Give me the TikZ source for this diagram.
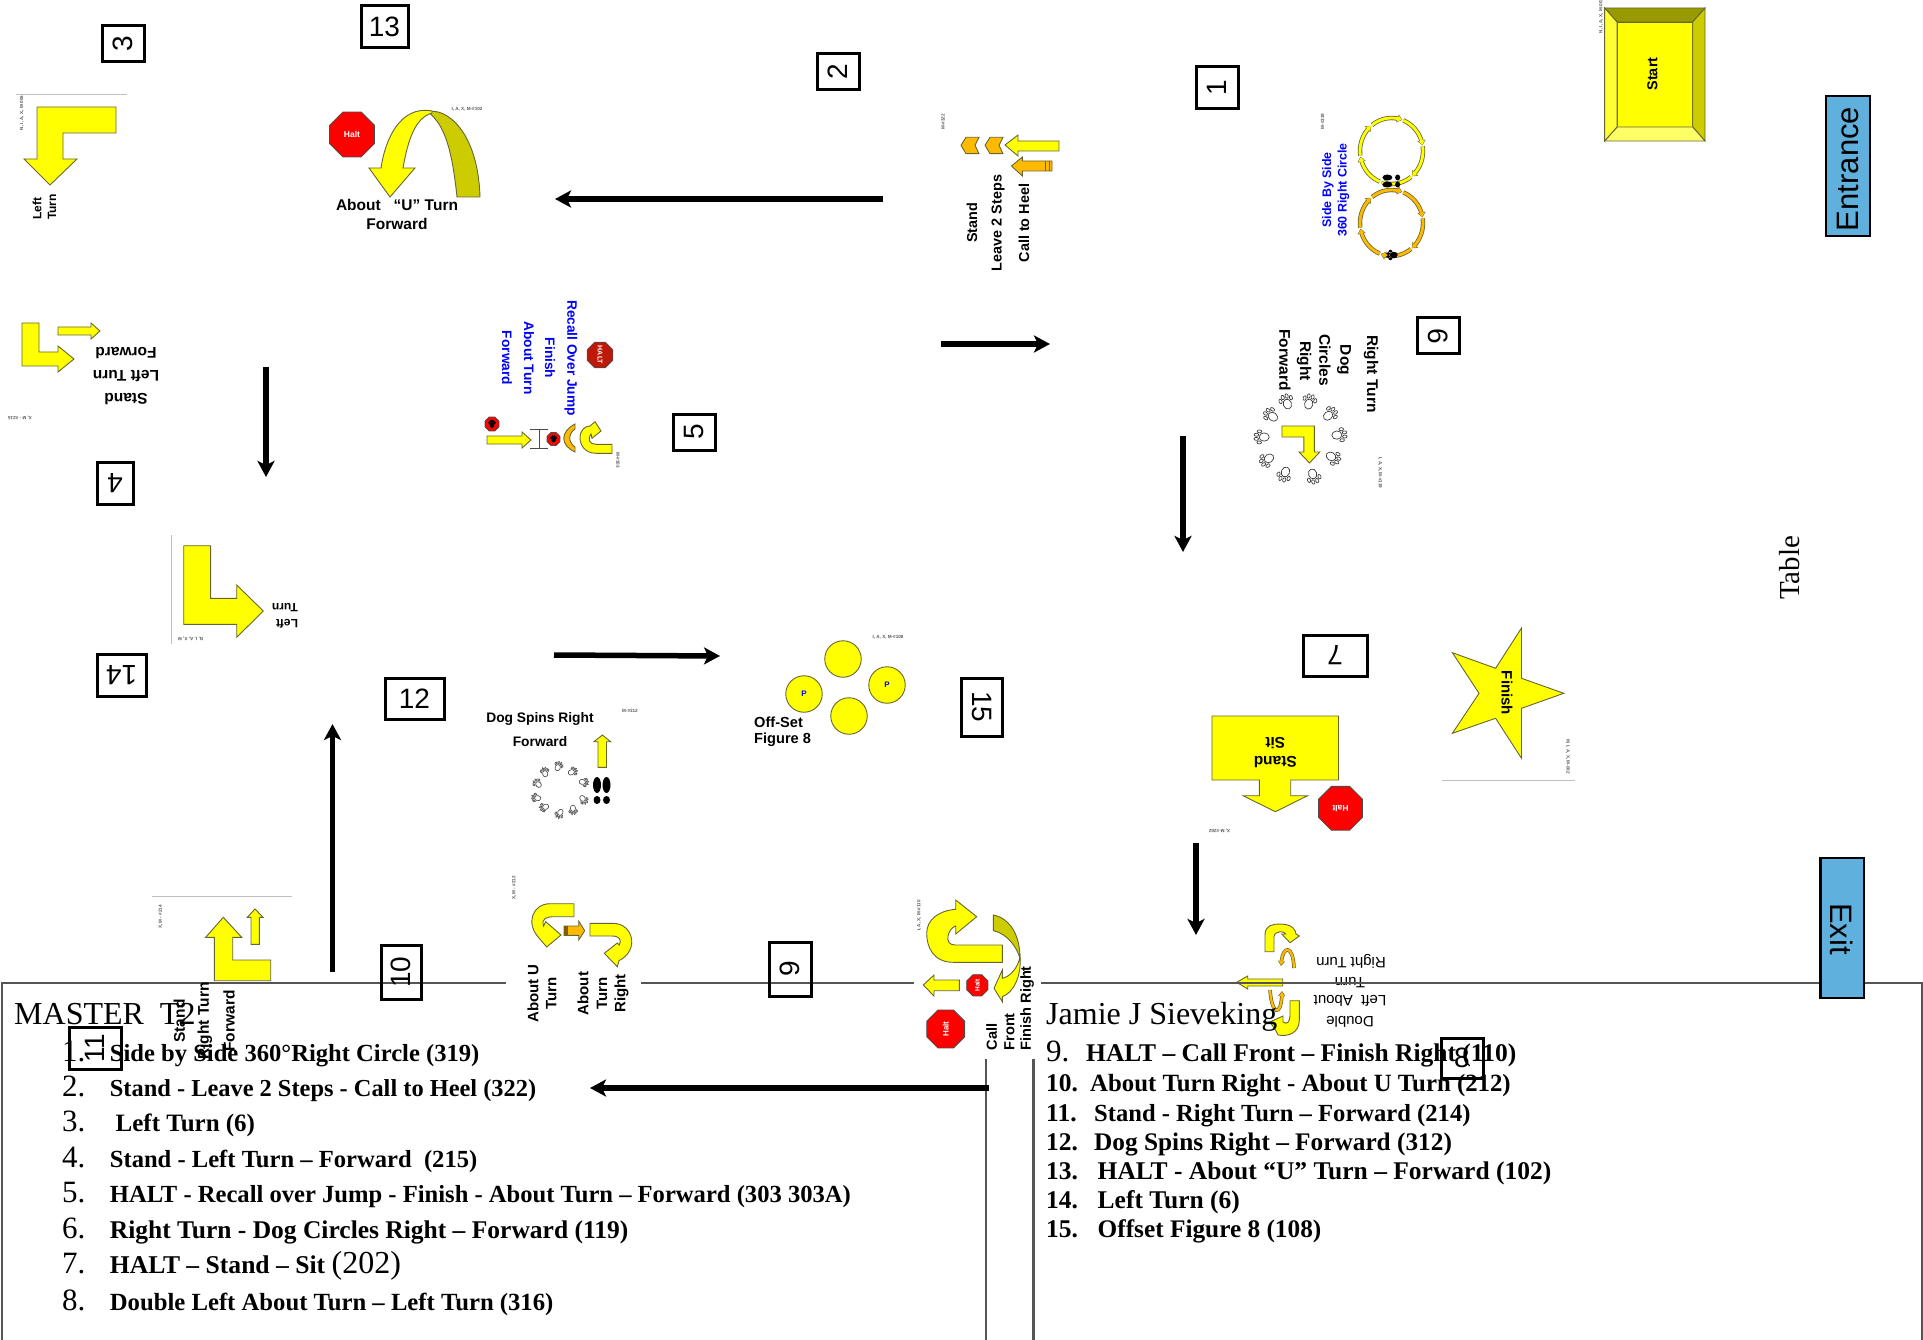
\documentclass[tikz,border=0pt]{standalone}
\usepackage{fontspec}
\setmainfont{Liberation Serif}
\setsansfont{Liberation Sans}
\usetikzlibrary{arrows.meta,shapes.geometric,calc}
\definecolor{sy}{HTML}{FFFF00}
\definecolor{so}{HTML}{FFBA00}
\definecolor{sol}{HTML}{CCCC00}
\definecolor{sedge}{HTML}{666633}
\definecolor{doorblue}{HTML}{60B0DD}
\definecolor{tline}{HTML}{555555}
\tikzset{
 x=1pt,y=-1pt,
 ys/.style={fill=sy,draw=sedge,line width=0.9pt,line join=miter},
 os/.style={fill=so,draw=sedge,line width=0.9pt,line join=miter},
 ols/.style={fill=sol,draw=sedge,line width=0.9pt,line join=miter},
 sgn/.style={font=\sffamily\bfseries\fontsize{#1}{#1}\selectfont,inner sep=0pt,text=black},
 sgnreg/.style={font=\sffamily\fontsize{#1}{#1}\selectfont,inner sep=0pt,text=black},
 blu/.style={font=\sffamily\bfseries\fontsize{#1}{#1}\selectfont,inner sep=0pt,text=blue},
 tiny/.style={font=\sffamily\bfseries\fontsize{4.6}{5}\selectfont,inner sep=0pt,text=black!65},
 halt/.style={regular polygon,regular polygon sides=8,fill=red,draw=black!70,line width=0.8pt,inner sep=0pt,text=white,font=\sffamily\bfseries\fontsize{#1}{#1}\selectfont},
 boxline/.style={draw=black,line width=3pt},
 numtxt/.style={font=\sffamily\fontsize{28}{28}\selectfont,inner sep=0pt},
 flowline/.style={line width=5.5pt,-{Stealth[length=16pt,width=17pt,inset=4pt]}},
 door/.style={fill=doorblue,draw=black,line width=2.8pt},
 thinrule/.style={draw=black!25,line width=0.8pt},
 tbl/.style={draw=tline,line width=2.4pt},
 ltxt/.style={font=\bfseries\fontsize{#1}{30}\selectfont,inner sep=0pt,anchor=base west},
 lnum/.style={font=\fontsize{31}{32}\selectfont,inner sep=0pt,anchor=base west},
}
\newcommand\numbox[7]{\draw[boxline] (#2,#4) rectangle (#3,#5);
 \node[numtxt,rotate=#6] (#1) at ({(#2+#3)/2},{(#4+#5)/2}) {#7};}
\newcommand\flow[3]{\coordinate (#1s) at (#2); \coordinate (#1e) at (#3); \draw[flowline] (#1s) -- (#1e);}
\newcommand\paw[5]{\begin{scope}[shift={(#1,#2)},rotate=#3,scale=#4]
 \draw[#5,line width=0.7pt] (0,1) ellipse [x radius=3.6,y radius=4.4];
 \draw[#5,line width=0.7pt] (-4.8,-3.2) ellipse [x radius=1.3,y radius=2];
 \draw[#5,line width=0.7pt] (-1.8,-5.8) ellipse [x radius=1.3,y radius=2];
 \draw[#5,line width=0.7pt] (1.8,-5.8) ellipse [x radius=1.3,y radius=2];
 \draw[#5,line width=0.7pt] (4.8,-3.2) ellipse [x radius=1.3,y radius=2];
\end{scope}}
\begin{document}
\begin{tikzpicture}
\useasboundingbox (0,0) rectangle (1923,1340);

% Double left about turn sign (under the table rule)
\draw[ys] (1265,951.7) -- (1265,935) .. controls (1265,925) and (1273,924) .. (1280,924) .. controls (1292,924) and (1296,930) .. (1296,934) -- (1299.3,936) -- (1290,942.7) -- (1281.7,934) -- (1285.7,934) .. controls (1285,931) and (1275,930) .. (1274,936.7) -- (1274,951.7) -- cycle;
\draw[draw=sedge,line width=3.6pt,-{Triangle[length=5pt,width=7pt]}] (1294,968) .. controls (1293,944) and (1283,946) .. (1281,966);
\draw[draw=so,line width=2.2pt,-{Triangle[length=4pt,width=5.5pt]}] (1294,968) .. controls (1293,944) and (1283,946) .. (1281,965);
\draw[ys] (1236.7,982.3) -- (1247.7,976) -- (1247.7,979) -- (1282.7,979) -- (1282.7,986) -- (1247.7,986) -- (1247.7,989) -- cycle;
\draw[draw=sedge,line width=3.6pt,-{Triangle[length=5pt,width=7pt]}] (1270,990) .. controls (1272,1016) and (1281,1016) .. (1282,991);
\draw[draw=so,line width=2.2pt,-{Triangle[length=4pt,width=5.5pt]}] (1270,990) .. controls (1272,1016) and (1281,1016) .. (1282,992);
\draw[ys] (1290,1000.7) -- (1299.3,1000.7) -- (1299.3,1020) .. controls (1299.3,1033) and (1288,1037) .. (1278,1035) -- (1276,1031) -- (1270,1022) -- (1283,1016) -- (1283,1022) .. controls (1287,1025) and (1290,1022) .. (1290,1015) -- cycle;
\node[sgnreg=15,rotate=180] (dl1) at (1351,961.7) {Right Turn};
\node[sgnreg=15,rotate=180] (dl2) at (1350,983) {Turn};
\node[sgnreg=15,rotate=180] (dl3) at (1350,1000.7) {Left \ About};
\node[sgnreg=15,rotate=180] (dl4) at (1350,1021.7) {Double};

% Stand Right Turn Forward sign
\draw[thinrule] (152,896) -- (292,896);
\draw[ys] (223.3,917.3) -- (241.7,937.3) -- (232.7,937.3) -- (232.7,960) -- (270.7,960) -- (270.7,980.7) -- (214.3,980.7) -- (214.3,937.3) -- (205.7,937.3) -- cycle;
\draw[ys] (255,909) -- (263,917.3) -- (259.3,917.3) -- (259.3,944.3) -- (251,944.3) -- (251,917.3) -- (247.3,917.3) -- cycle;
\node[tiny,rotate=90] (t11) at (160.7,917) {X, M - \#214};

% Table
\draw[tbl] (2,1340) -- (2,983) -- (1923,983);
\draw[tbl] (1922,983) -- (1922,1340);
\draw[tbl] (986,1059) -- (986,1340);
\draw[tbl] (1033.5,1059) -- (1033.5,1340);
\fill[white] (506,875) rectangle (641,1030);
\fill[white] (914,885) rectangle (1041,1059);

% Sign 3
\draw[thinrule] (16,94) -- (127,94);
\draw[ys] (37,107) -- (116,107) -- (116,133) -- (63,133) -- (63,159) -- (77,159) -- (50,185) -- (24,159) -- (37,159) -- cycle;
\node[sgn=12,rotate=90,anchor=west] (s3a) at (37,220) {Left};
\node[sgn=12,rotate=90,anchor=west] (s3b) at (52,220) {Turn};
\node[tiny,rotate=90] (t3) at (22,113) {N, I, A, X, M-006};

% Sign 13
\node[halt=8.5,minimum size=48.5pt] (h13) at (352,134.5) {Halt};
\draw[ols] (428,112) .. controls (445,107) and (478,130) .. (480,197) -- (457,197) .. controls (452,150) and (445,125) .. (428,112) -- cycle;
\draw[ys] (432,111) .. controls (400,105) and (385,140) .. (381,168) -- (369,168) -- (390,197) -- (415,168) -- (403,168) .. controls (408,140) and (415,118) .. (432,113) -- cycle;
\node[sgn=15.5] (s13a) at (397,205) {About \ \ “U” Turn};
\node[sgn=15.5] (s13b) at (397,224) {Forward};
\node[tiny] (t13) at (467,109.5) {I, A, X, M-\#102};

% Sign 4
\draw[ys] (22,323) -- (39,323) -- (39,352) -- (58,352) -- (58,346) -- (74,359) -- (58,372) -- (58,366) -- (22,366) -- cycle;
\draw[ys] (58,327) -- (91,327) -- (91,323) -- (100,331) -- (91,339) -- (91,335) -- (58,335) -- cycle;
\node[sgn=15.5,rotate=180] (s4a) at (126,353) {Forward};
\node[sgn=15.5,rotate=180] (s4b) at (126,376) {Left Turn};
\node[sgn=15.5,rotate=180] (s4c) at (126,399) {Stand};
\node[tiny,rotate=180] (t4) at (20,418) {X, M - \#215};

% Sign 5
\node[blu=13.7,rotate=-90] (s5a) at (571,358) {Recall Over Jump};
\node[blu=13.7,rotate=-90] (s5b) at (550,358) {Finish};
\node[blu=13.7,rotate=-90] (s5c) at (529,358) {About Turn};
\node[blu=13.7,rotate=-90] (s5d) at (507,358) {Forward};
\node[halt=7,minimum size=26pt,rotate=-90,fill={rgb,255:red,190;green,24;blue,8}] (h5) at (600,355) {HALT};
\node[halt=1,minimum size=15pt] (h5b) at (492,424) {};
\paw{492}{424.5}{0}{0.55}{fill=black,draw=black}
\node[halt=1,minimum size=14pt] (h5c) at (553.5,439) {};
\paw{553.5}{439.5}{0}{0.5}{fill=black,draw=black}
\draw[ys] (487,436) -- (522,436) -- (522,432) -- (531,440) -- (522,448) -- (522,444) -- (487,444) -- cycle;
\draw[draw=black!70,line width=0.9pt] (539,429) -- (539,448) (530,429) -- (548,429) (530,448) -- (548,448);
\draw[os] (575,424) .. controls (560,432) and (560,445) .. (575,452) -- (575,447) .. controls (568,442) and (568,434) .. (575,429) -- cycle;
\draw[ys] (612,453.3) -- (596,453.3) .. controls (585,453.3) and (580,445) .. (580,438) .. controls (580,430) and (585,426) .. (590,426) -- (595,421.7) -- (601,431) -- (592,438.3) -- (591,434) .. controls (587,440) and (590,444.3) .. (596,444.3) -- (612,444.3) -- cycle;
\node[tiny,rotate=-90] (t5) at (618,460) {M-\#303};

% Sign 2
\foreach \dx in {0,24}{
 \draw[os] (961+\dx,145.3) -- (966+\dx,137.3) -- (979+\dx,137.3) -- (975+\dx,145.3) -- (979+\dx,153.7) -- (966+\dx,153.7) -- cycle;
}
\draw[ys] (1005,145) -- (1018,135) -- (1018,141) -- (1059,141) -- (1059,151) -- (1018,151) -- (1018,156) -- cycle;
\draw[os] (1011.4,166) -- (1022.4,157) -- (1022.4,161) -- (1052,161) -- (1052,171) -- (1022.4,171) -- (1022.4,176) -- cycle;
\draw[draw=sedge,line width=0.9pt] (1045,161) -- (1045,171) (1049,161) -- (1049,171);
\node[sgn=14.4,rotate=90] (s2a) at (972,223) {Stand};
\node[sgn=14.4,rotate=90] (s2b) at (998,223) {Leave 2 Steps};
\node[sgn=14.4,rotate=90] (s2c) at (1024,223) {Call to Heel};
\node[tiny,rotate=90] (t2) at (943,122) {M-\#322};

% Sign 1
\foreach \c/\cy in {sy/151,so/223}{
 \foreach \a in {-68,-8,52,112,172,232}{
  \draw[draw=sedge,line width=4.4pt,-{Triangle[length=5pt,width=8pt]}] plot[domain=\a:\a+58,samples=12] ({1391.5+31.5*cos(\x)},{\cy+33*sin(\x)});
  \draw[draw=\c,line width=2.8pt,-{Triangle[length=4pt,width=6pt]}] plot[domain=\a:\a+57,samples=12] ({1391.5+31.5*cos(\x)},{\cy+33*sin(\x)});
 }
}
\fill[black] (1387.4,177.5) ellipse [x radius=5,y radius=3];
\fill[black] (1397.6,177.5) ellipse [x radius=2.5,y radius=3];
\fill[black] (1387.4,184.5) ellipse [x radius=5,y radius=3];
\fill[black] (1397.6,184.5) ellipse [x radius=2.5,y radius=3];
\paw{1393}{255}{90}{0.8}{fill=black,draw=black}
\node[blu=12.4,rotate=90] (s1a) at (1328,190) {Side By Side};
\node[blu=12.4,rotate=90] (s1b) at (1343.5,190) {360 Right Circle};
\node[tiny,rotate=90] (t1) at (1322.6,121.5) {M-\#319};

% Start
\draw[fill=sy,draw=sedge,line width=0.9pt] (1617,22) rectangle (1692.7,127);
\draw[fill={rgb,255:red,153;green,153;blue,0},draw=sedge,line width=0.9pt] (1604.6,8) -- (1705,8) -- (1692.7,22) -- (1617,22) -- cycle;
\draw[ols] (1705,8) -- (1705,141) -- (1692.7,127) -- (1692.7,22) -- cycle;
\draw[fill={rgb,255:red,255;green,255;blue,102},draw=sedge,line width=0.9pt] (1604.6,141) -- (1705,141) -- (1692.7,127) -- (1617,127) -- cycle;
\draw[fill={rgb,255:red,255;green,255;blue,51},draw=sedge,line width=0.9pt] (1604.6,8) -- (1617,22) -- (1617,127) -- (1604.6,141) -- cycle;
\node[sgn=14.4,rotate=90] (start) at (1652.5,74) {Start};
\node[tiny,rotate=90] (tst) at (1601,16) {N, I, A, X, M-001};

% Doors and table label
\draw[door] (1826,96) rectangle (1870,236);
\node[font=\sffamily\fontsize{31}{31}\selectfont,inner sep=0pt,rotate=90] (entrance) at (1848,169) {Entrance};
\draw[door] (1820.5,858) rectangle (1864,998);
\node[font=\sffamily\fontsize{31}{31}\selectfont,inner sep=0pt,rotate=-90] (exit) at (1842,929) {Exit};
\node[font=\fontsize{29}{29}\selectfont,inner sep=0pt,rotate=90] (table) at (1790,568) {Table};

% Sign 6
\node[sgn=15.5,rotate=-90] (s6a) at (1371,374) {Right Turn};
\node[sgn=15.5,rotate=-90] (s6b) at (1344,360) {Dog};
\node[sgn=15.5,rotate=-90] (s6c) at (1325,360) {Circles};
\node[sgn=15.5,rotate=-90] (s6d) at (1304,361) {Right};
\node[sgn=15.5,rotate=-90] (s6e) at (1285,360) {Forward};
\draw[ys] (1282,426) -- (1314.4,426) -- (1314.4,452) -- (1319.8,452) -- (1309.5,463) -- (1299,452) -- (1303.8,452) -- (1303.8,437) -- (1282,437) -- cycle;
\foreach \px/\py in {1272/416,1287/403,1309/403,1329/415,1338/435,1332/457,1313/475,1285/473,1268/459,1263/437}{
 \pgfmathsetmacro\rr{atan2(438-\py,\px-1300)-90}
 \paw{\px}{\py}{\rr}{1.15}{draw=black!75,fill=white}
}
\node[tiny,rotate=-90] (t6) at (1380,473) {I, A, X, M-\#119};

% Sign 14
\draw[thinrule] (171.4,535) -- (171.4,644);
\draw[ys] (183.7,545.7) -- (210.6,545.7) -- (210.6,598.3) -- (236.7,598.3) -- (236.7,585) -- (263.3,611) -- (236.7,637.3) -- (236.7,624.3) -- (183.7,624.3) -- cycle;
\node[sgn=12,rotate=180] (s14a) at (285,608) {Turn};
\node[sgn=12,rotate=180] (s14b) at (287,624) {Left};
\node[tiny,rotate=180] (t14) at (190.6,638.7) {N, I, A, X, M};

% Sign 12
\node[sgn=13.8] (s12a) at (540,719) {Dog Spins Right};
\node[sgn=13.8] (s12b) at (540,742) {Forward};
\node[tiny] (t12) at (630,711) {M-\#312};
\draw[ys] (602.4,735) -- (610.6,741.7) -- (606.5,741.7) -- (606.5,767.3) -- (598,767.3) -- (598,741.7) -- (593.9,741.7) -- cycle;
\fill[black] (597,785) ellipse [x radius=4,y radius=8];
\fill[black] (606.5,785) ellipse [x radius=4,y radius=8];
\fill[black] (597,800) ellipse [x radius=3.5,y radius=4];
\fill[black] (606.5,800) ellipse [x radius=3.5,y radius=4];
\foreach \px/\py in {558/767,572/772,583/782,583/799,573/809,560/813,545/807,537/798,538/784,545/773}{
 \pgfmathsetmacro\rr{atan2(790-\py,\px-560)-120}
 \paw{\px}{\py}{\rr}{0.72}{draw=black!65,fill=white}
}

% Sign 15
\foreach \nm/\cx/\cy/\tx in {c1/843/659/,c2/804/694/P,c3/887/685/P,c4/849/716/}{
 \node[circle,fill=sy,draw=sedge,line width=0.9pt,minimum size=36.5pt,inner sep=0pt,text=blue,font=\sffamily\bfseries\fontsize{8}{8}\selectfont] (\nm) at (\cx,\cy) {\tx};
}
\node[sgn=14.6,anchor=west] (s15a) at (754,722) {Off-Set};
\node[sgn=14.6,anchor=west] (s15b) at (754,740) {Figure 8};
\node[tiny] (t15) at (888,637) {I, A, X, M-\#108};

% Sign 7
\draw[ys] (1212,716) -- (1338.5,716) -- (1338.5,780) -- (1290.7,780) -- (1290.7,795.7) -- (1307.6,795.7) -- (1275.3,811.7) -- (1243,795.7) -- (1259.4,795.7) -- (1259.4,780) -- (1212,780) -- cycle;
\node[sgn=15.5,rotate=180] (s7a) at (1275.3,743.3) {Sit};
\node[sgn=15.5,rotate=180] (s7b) at (1275.3,761.7) {Stand};
\node[halt=8.5,minimum size=47.5pt,rotate=180] (h7) at (1340.5,808.3) {Halt};
\node[tiny,rotate=180] (t7) at (1219.6,830.3) {X, M-\#202};

% Finish
\draw[ys] (1521.5,628) -- (1495.6,668.3) -- (1452.4,652.7) -- (1479,693.3) -- (1452.4,733.3) -- (1495.6,718.3) -- (1521.5,758.3) -- (1521.5,708.3) -- (1563.8,693.3) -- (1521.5,678.3) -- cycle;
\node[sgn=15,rotate=-90] (finish) at (1507,693) {Finish};
\draw[thinrule] (1442,780.3) -- (1575,780.3);
\node[tiny,rotate=-90] (tfin) at (1567.8,756.5) {M, I, A, X, M-002};

% Sign 10
\draw[ys] (574,903.7) -- (550,903.7) .. controls (533,903.7) and (525,923) .. (539,938) -- (546.7,947) -- (561,935) -- (545.7,921.7) -- (543.5,926) .. controls (541,918) and (547,916.7) .. (555,916.7) -- (574,916.7) -- cycle;
\draw[os] (564,926) -- (578.7,926) -- (578.7,921) -- (584.7,930.7) -- (578.7,940) -- (578.7,935.3) -- (564,935.3) -- cycle;
\fill[black!50!so] (564,926) rectangle (568,935.3);
\draw[ys] (590,923.3) -- (613,923.3) .. controls (633,923.3) and (640,950) .. (619,960.7) -- (617.3,966.7) -- (604.3,953.3) -- (617.3,943) -- (619.3,945) .. controls (621.7,940) and (620,936) .. (611.7,936) -- (590,936) -- cycle;
\node[sgn=15,rotate=90] (s10a) at (533,993.5) {About U};
\node[sgn=15,rotate=90] (s10b) at (551.4,993.5) {Turn};
\node[sgn=15,rotate=90] (s10c) at (583,993.5) {About};
\node[sgn=15,rotate=90] (s10d) at (602,993.5) {Turn};
\node[sgn=15,rotate=90] (s10e) at (621.6,993.5) {Right};
\node[tiny,rotate=90] (t10) at (514,888) {X, M - \#212};

% Sign 9
\draw[ys] (1002.3,962.3) -- (953.3,962.3) .. controls (933,962.3) and (926.7,946.7) .. (926.7,933.3) .. controls (926.7,920) and (938,910.7) .. (955.7,909.3) -- (955.7,900) -- (976.7,916.7) -- (955.7,934) -- (955.7,926) .. controls (948,928) and (943,945) .. (955,945) -- (1002.3,945) -- cycle;
\draw[ols] (993.3,915) .. controls (1010,918.3) and (1020,935) .. (1020,958.3) .. controls (1016.7,946.7) and (1006.7,933.3) .. (993.3,930.7) -- cycle;
\draw[ys] (1020,956.7) .. controls (1021.7,976.7) and (1013,993) .. (1002.3,996.7) -- (1002.3,1001.7) -- (994,988.3) -- (1002.3,970) -- (1002.3,978.3) .. controls (1010,976.7) and (1018,968) .. (1020,956.7) -- cycle;
\node[halt=6.5,minimum size=23pt,rotate=90] (h9a) at (977.3,985.3) {Halt};
\node[halt=8,minimum size=41pt,rotate=90] (h9b) at (945.7,1029) {Halt};
\draw[ys] (923.3,985) -- (934,975) -- (934,980) -- (959.3,980) -- (959.3,990.7) -- (934,990.7) -- (934,996) -- cycle;
\node[sgn=14.6,rotate=90,anchor=west] (s9a) at (991.7,1050.7) {Call};
\node[sgn=14.6,rotate=90,anchor=west] (s9b) at (1009.3,1050.7) {Front};
\node[sgn=14.6,rotate=90,anchor=west] (s9c) at (1027,1050.7) {Finish Right};
\node[tiny,rotate=90] (t9) at (919,915.5) {I, A, X, M-\#110};

% Flow arrows
\flow{f1}{1183,436}{1183,552}
\flow{f2}{883,199}{555,199}
\flow{f3}{941,344}{1050,344}
\flow{f4}{266,367}{266,477}
\flow{f5}{332.5,972}{332.5,724}
\flow{f6}{554,655}{720,656}
\flow{f7}{1196,843}{1196,935}
\flow{f8}{989,1088}{590,1088}

% Number boxes
\numbox{n13}{361}{408}{6}{48}{0}{13}
\numbox{n3}{102}{144}{26}{62}{90}{3}
\numbox{n2}{817}{859}{54}{90}{90}{2}
\numbox{n1}{1196}{1238}{67}{109}{90}{1}
\numbox{n5}{673}{715}{414}{450}{90}{5}
\numbox{n6}{1417}{1459}{318}{354}{-90}{6}
\numbox{n4}{97}{133}{462}{504}{180}{4}
\numbox{n14}{97}{146}{654}{696}{180}{14}
\numbox{n12}{385}{444}{678}{719}{0}{12}
\numbox{n15}{961}{1002}{678}{736}{-90}{15}
\numbox{n7}{1303}{1367}{635}{676}{180}{7}
\numbox{n9}{769}{811}{942}{996}{90}{9}
\numbox{n10}{381}{421.5}{945}{999}{90}{10}

% Stand / Right Turn / Forward text
\node[sgn=15.5,rotate=90] (s11a) at (179.3,1021) {Stand};
\node[sgn=15.5,rotate=90] (s11b) at (205,1021) {Right Turn};
\node[sgn=15.5,rotate=90] (s11c) at (229,1021) {Forward};

% Table text
\node[font=\fontsize{32}{32}\selectfont,inner sep=0pt,anchor=base west] (master) at (14,1024) {MASTER \ T2};
\node[font=\fontsize{32}{32}\selectfont,inner sep=0pt,anchor=base west] (jamie) at (1046,1024) {Jamie J Sieveking};

\node[lnum] (l1n) at (62,1061) {1.};
\node[ltxt=24.6] (l1) at (109.7,1061) {Side by Side 360°Right Circle (319)};
\node[lnum] (l2n) at (62,1096) {2.};
\node[ltxt=24.4] (l2) at (109.7,1096) {Stand - Leave 2 Steps - Call to Heel (322)};
\node[lnum] (l3n) at (62,1131) {3.};
\node[ltxt=25] (l3) at (115.5,1131) {Left Turn (6)};
\node[lnum] (l4n) at (62,1167) {4.};
\node[ltxt=24.6] (l4) at (109.7,1167) {Stand - Left Turn – Forward \ (215)};
\node[lnum] (l5n) at (62,1202) {5.};
\node[ltxt=24.6] (l5) at (109.7,1202) {HALT - Recall over Jump - Finish - About Turn – Forward (303 303A)};
\node[lnum] (l6n) at (62,1238) {6.};
\node[ltxt=25.5] (l6) at (109.7,1238) {Right Turn - Dog Circles Right – Forward (119)};
\node[lnum] (l7n) at (62,1273) {7.};
\node[ltxt=25.6] (l7) at (109.7,1273) {HALT – Stand – Sit \normalfont\fontsize{32}{32}\selectfont(202)};
\node[lnum] (l8n) at (62,1310) {8.};
\node[ltxt=24.7] (l8) at (109.7,1310) {Double Left About Turn – Left Turn (316)};

\node[lnum] (r9n) at (1046,1061) {9.};
\node[ltxt=25.5] (r9) at (1086,1061) {HALT – Call Front – Finish Right (110)};
\node[ltxt=25.5] (r10) at (1046,1091) {10.};
\node[ltxt=24.8] (r10t) at (1090,1091) {About Turn Right - About U Turn (212)};
\node[ltxt=25.5] (r11) at (1046,1121) {11.};
\node[ltxt=24.6] (r11t) at (1094,1121) {Stand - Right Turn – Forward (214)};
\node[ltxt=25.5] (r12) at (1046,1150) {12.};
\node[ltxt=25.3] (r12t) at (1094,1150) {Dog Spins Right – Forward (312)};
\node[ltxt=25.5] (r13) at (1046,1179) {13.};
\node[ltxt=25.5] (r13t) at (1097.5,1179) {HALT - About “U” Turn – Forward (102)};
\node[ltxt=25.5] (r14) at (1046,1208) {14.};
\node[ltxt=25.5] (r14t) at (1097.5,1208) {Left Turn (6)};
\node[ltxt=25.5] (r15) at (1046,1237) {15.};
\node[ltxt=25.3] (r15t) at (1097.5,1237) {Offset Figure 8 (108)};

\numbox{n11}{69}{121}{1027}{1069}{90}{11}
\numbox{n8}{1441}{1483}{1038}{1078}{0}{8}
\end{tikzpicture}
\end{document}
